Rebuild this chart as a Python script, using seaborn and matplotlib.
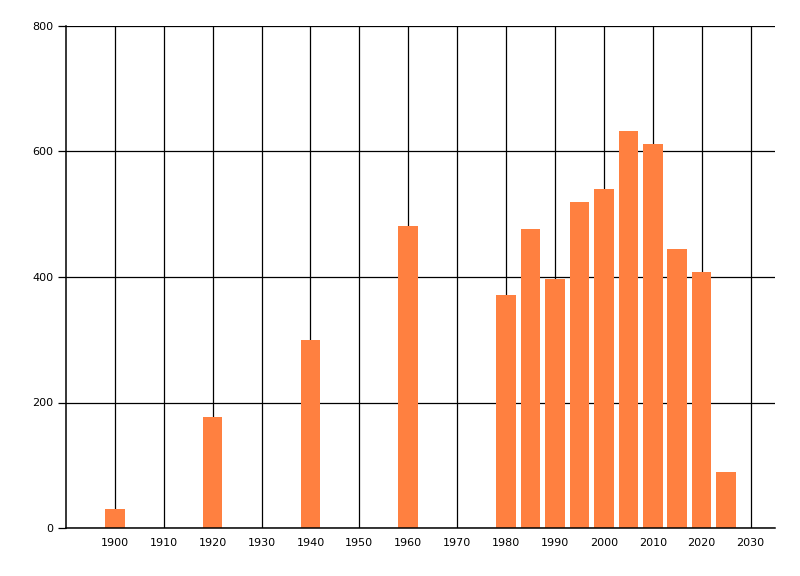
import matplotlib
matplotlib.use("Agg")
import matplotlib.pyplot as plt
import seaborn as sns

years = [1900, 1920, 1940, 1960, 1980, 1985, 1990, 1995, 2000, 2005, 2010, 2015, 2020, 2025]
values = [31, 177, 300, 481, 372, 476, 397, 519, 540, 632, 612, 445, 408, 90]
x_ticks = list(range(1900, 2031, 10))
y_ticks = [0, 200, 400, 600, 800]

sns.set_style("white")
plt.rcParams["font.family"] = ["DejaVu Sans"]

fig = plt.figure(figsize=(8, 5.76), dpi=100)
ax = fig.add_axes([66 / 800, 48 / 576, 709 / 800, 502 / 576])

sns.barplot(x=years, y=values, native_scale=True, width=0.8,
            color="#FF8040", saturation=1, errorbar=None, linewidth=0,
            ax=ax, zorder=2)

ax.set_xlim(1890, 2035)
ax.set_ylim(0, 800)
ax.set_xticks(x_ticks)
ax.set_yticks(y_ticks)
ax.set_xticklabels([str(t) for t in x_ticks])

ax.set_axisbelow(True)
ax.grid(True, color="black", linewidth=0.9)
ax.tick_params(axis="x", length=0, pad=7, labelsize=8, labelcolor="black")
ax.tick_params(axis="y", length=6, width=0.9, color="black", pad=3,
               labelsize=8, labelcolor="black", left=True)

for side in ["top", "right"]:
    ax.spines[side].set_visible(False)
for side in ["left", "bottom"]:
    ax.spines[side].set_color("black")
    ax.spines[side].set_linewidth(1.1)

ax.set_xlabel("")
ax.set_ylabel("")

fig.savefig("out.png", dpi=100)
